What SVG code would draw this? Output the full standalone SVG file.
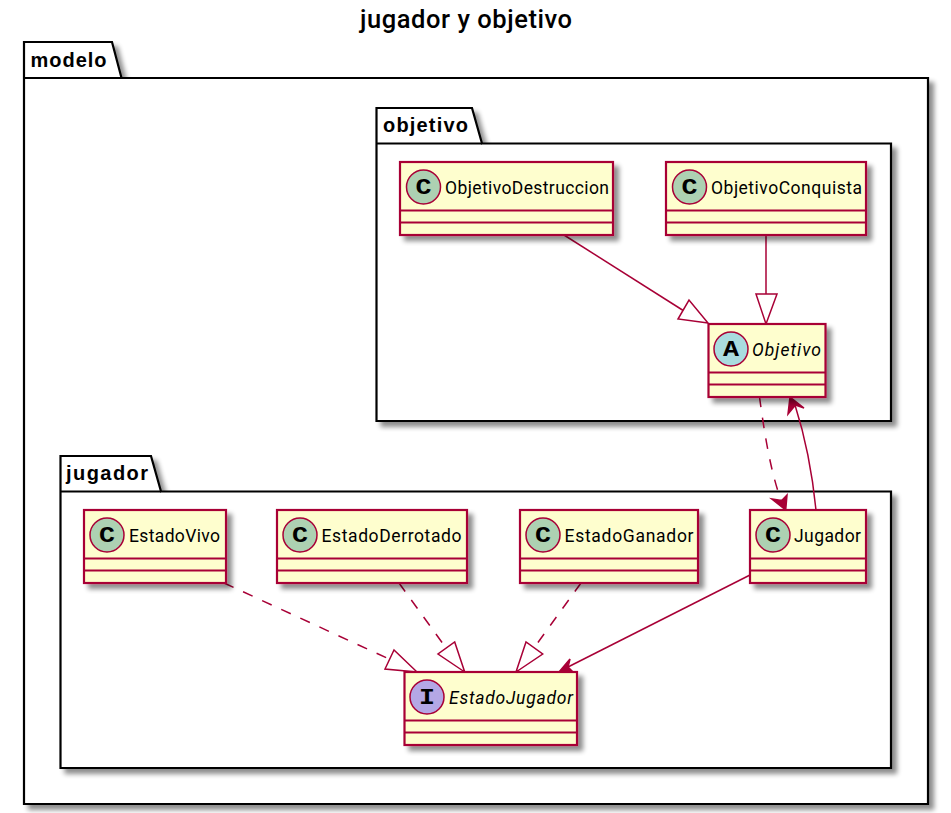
<svg xmlns="http://www.w3.org/2000/svg" width="951" height="813" viewBox="0 0 951 813">
<style>
text{font-family:"Roboto","Liberation Sans",Arial,sans-serif;fill:#000}
.title{font-size:25.5px;font-weight:500}
.pk{font-family:"Liberation Sans",Arial,sans-serif;font-size:20px;font-weight:bold}
.pkg{fill:#fff;stroke:#000;stroke-width:2.2}
.pl{fill:none;stroke:#000;stroke-width:2.2}
.box{fill:#FEFECE;stroke:#A80036;stroke-width:2.2}
.sep{stroke:#A80036;stroke-width:2.2;fill:none}
.cn{font-size:17.5px}
.it{font-style:italic}
.glyph{font-family:"Liberation Mono",monospace;font-weight:bold;font-size:22px;text-anchor:middle}
.circ{stroke:#A80036;stroke-width:1.5}
.c{fill:#ADD1B2}.a{fill:#A9DCDF}.i{fill:#B4A7E5}
.e{fill:none;stroke:#A80036;stroke-width:1.5}
.d{stroke-dasharray:10.5 10.5}
.tri{fill:#fff;stroke:#A80036;stroke-width:1.5}
.ah{fill:#A80036;stroke:#A80036;stroke-width:1.5}
</style>
<defs>
<filter id="sh" x="-10%" y="-10%" width="125%" height="125%">
<feGaussianBlur in="SourceAlpha" stdDeviation="2.6"/>
<feOffset dx="5" dy="5"/>
<feComponentTransfer><feFuncA type="linear" slope="0.45"/></feComponentTransfer>
<feMerge><feMergeNode/><feMergeNode in="SourceGraphic"/></feMerge>
</filter>
</defs>
<rect width="951" height="813" fill="#fff"/>
<text class="title" x="360" y="28" textLength="212" lengthAdjust="spacing">jugador y objetivo</text>
<g id="pkg-modelo">
<path class="pkg" filter="url(#sh)" d="M24 42H112L121.500 78H928V804H24Z"/>
<path class="pl" d="M24 78H121.500"/>
<text class="pk" x="30.500" y="67" textLength="76" lengthAdjust="spacing">modelo</text>
</g>
<g id="pkg-objetivo">
<path class="pkg" filter="url(#sh)" d="M376.500 108H472L482 143.500H891V421H376.500Z"/>
<path class="pl" d="M376.500 143.500H482"/>
<text class="pk" x="383" y="132" textLength="85" lengthAdjust="spacing">objetivo</text>
</g>
<g id="pkg-jugador">
<path class="pkg" filter="url(#sh)" d="M60.500 456H151L161 491.500H891V768H60.500Z"/>
<path class="pl" d="M60.500 491.500H161"/>
<text class="pk" x="66" y="480" textLength="82" lengthAdjust="spacing">jugador</text>
</g>
<g id="connectors">
<path class="e" d="M564 235L684 311"/>
<path class="tri" d="M708 323L678 319L689 300Z"/>
<path class="e" d="M766 235V294"/>
<path class="tri" d="M766 324L756 294H777Z"/>
<path class="e d" d="M759.500 397C764 430 770 470 781 500"/>
<path class="ah" d="M785.700 510L771.700 499L781.700 500.500L787 495Z"/>
<path class="e" d="M816 510C812 470 803 430 795 405"/>
<path class="ah" d="M790 397L804 408L795.500 405L788 414Z"/>
<path class="e d" d="M224 583L389 659"/>
<path class="tri" d="M417 672L385 669L394 650Z"/>
<path class="e d" d="M399 583L446 648"/>
<path class="tri" d="M464.700 672L438 654L454.700 642Z"/>
<path class="e d" d="M581 583L534 648"/>
<path class="tri" d="M516 672L526 642L542.700 654Z"/>
<path class="e" d="M750 575L568 667"/>
<path class="ah" d="M559 672L570 659L568 667L573 672Z"/>
</g>
<g id="ObjetivoDestruccion">
<rect class="box" filter="url(#sh)" x="400" y="162" width="213" height="73"/>
<path class="sep" d="M400 210.500H613M400 222.500H613"/>
<circle class="circ c" cx="423.500" cy="187" r="17"/>
<text class="glyph" x="423.500" y="193.500" textLength="16" lengthAdjust="spacingAndGlyphs">C</text>
<text class="cn" x="445" y="194" textLength="164" lengthAdjust="spacing">ObjetivoDestruccion</text>
</g>
<g id="ObjetivoConquista">
<rect class="box" filter="url(#sh)" x="666" y="162" width="200" height="73"/>
<path class="sep" d="M666 210.500H866M666 222.500H866"/>
<circle class="circ c" cx="689.500" cy="187" r="17"/>
<text class="glyph" x="689.500" y="193.500" textLength="16" lengthAdjust="spacingAndGlyphs">C</text>
<text class="cn" x="711" y="194" textLength="151" lengthAdjust="spacing">ObjetivoConquista</text>
</g>
<g id="Objetivo">
<rect class="box" filter="url(#sh)" x="708.500" y="324" width="117" height="73"/>
<path class="sep" d="M708.500 372.500H825.500M708.500 384.500H825.500"/>
<circle class="circ a" cx="731" cy="349" r="17"/>
<text class="glyph" x="731" y="355.500" textLength="16" lengthAdjust="spacingAndGlyphs">A</text>
<text class="cn it" x="752" y="356" textLength="69" lengthAdjust="spacing">Objetivo</text>
</g>
<g id="EstadoVivo">
<rect class="box" filter="url(#sh)" x="84" y="510" width="142" height="73"/>
<path class="sep" d="M84 558.500H226M84 570.500H226"/>
<circle class="circ c" cx="107" cy="535" r="17"/>
<text class="glyph" x="107" y="541.500" textLength="16" lengthAdjust="spacingAndGlyphs">C</text>
<text class="cn" x="129" y="542" textLength="91" lengthAdjust="spacing">EstadoVivo</text>
</g>
<g id="EstadoDerrotado">
<rect class="box" filter="url(#sh)" x="277" y="510" width="190" height="73"/>
<path class="sep" d="M277 558.500H467M277 570.500H467"/>
<circle class="circ c" cx="300" cy="535" r="17"/>
<text class="glyph" x="300" y="541.500" textLength="16" lengthAdjust="spacingAndGlyphs">C</text>
<text class="cn" x="321.500" y="542" textLength="140" lengthAdjust="spacing">EstadoDerrotado</text>
</g>
<g id="EstadoGanador">
<rect class="box" filter="url(#sh)" x="520" y="510" width="178" height="73"/>
<path class="sep" d="M520 558.500H698M520 570.500H698"/>
<circle class="circ c" cx="543" cy="535" r="17"/>
<text class="glyph" x="543" y="541.500" textLength="16" lengthAdjust="spacingAndGlyphs">C</text>
<text class="cn" x="564.500" y="542" textLength="129" lengthAdjust="spacing">EstadoGanador</text>
</g>
<g id="Jugador">
<rect class="box" filter="url(#sh)" x="750" y="510" width="116" height="73"/>
<path class="sep" d="M750 558.500H866M750 570.500H866"/>
<circle class="circ c" cx="773" cy="535" r="17"/>
<text class="glyph" x="773" y="541.500" textLength="16" lengthAdjust="spacingAndGlyphs">C</text>
<text class="cn" x="794" y="542" textLength="67" lengthAdjust="spacing">Jugador</text>
</g>
<g id="EstadoJugador">
<rect class="box" filter="url(#sh)" x="404.500" y="672" width="172.500" height="73"/>
<path class="sep" d="M404.500 720.500H577M404.500 732.500H577"/>
<circle class="circ i" cx="427" cy="697" r="17"/>
<text class="glyph" x="427" y="703.500" textLength="16" lengthAdjust="spacingAndGlyphs">I</text>
<text class="cn it" x="449" y="704" textLength="124" lengthAdjust="spacing">EstadoJugador</text>
</g>
</svg>
